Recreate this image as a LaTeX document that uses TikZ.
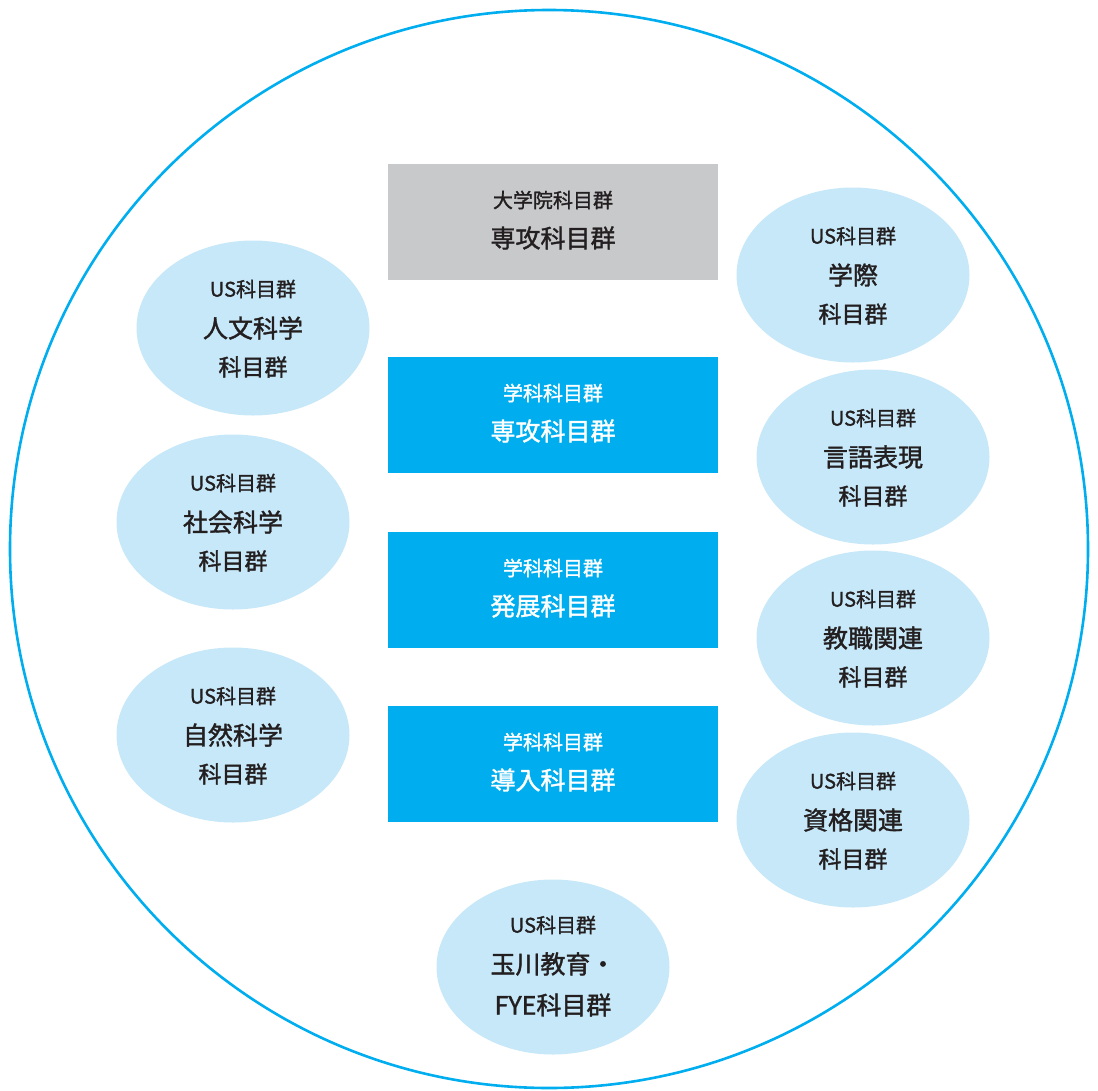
\documentclass[tikz,border=0pt]{standalone}
\usepackage{fontspec}
\newfontfamily\cjk[FakeBold=1.5]{Noto Sans CJK JP}
\usetikzlibrary{shapes.geometric,calc}
\definecolor{cblue}{HTML}{00AEEF}
\definecolor{cgray}{HTML}{C8C9CB}
\definecolor{clight}{HTML}{C7E8F8}
\definecolor{ctext}{HTML}{231F20}
\begin{document}
\begin{tikzpicture}[x=1pt,y=-1pt,
  rectbox/.style={rectangle, minimum width=330pt, minimum height=116pt, inner sep=0pt},
  ovalbox/.style={ellipse, fill=clight, minimum width=233pt, minimum height=175pt, inner sep=0pt},
  small/.style={inner sep=0pt, font=\cjk\fontsize{20}{20}\selectfont, text=ctext},
  big/.style={inner sep=0pt, font=\cjk\fontsize{25}{25}\selectfont, text=ctext},
  mid/.style={inner sep=0pt, font=\cjk\fontsize{23}{23}\selectfont, text=ctext}]
\useasboundingbox (0,0) rectangle (1098,1090);
\node[circle, draw=cblue, line width=2.6pt, minimum size=1078pt, inner sep=0pt] (outer) at (549,549) {};
% rectangles
\node[rectbox, fill=cgray] (r0) at (553,222) {};
\node[rectbox, fill=cblue] (r1) at (553,415) {};
\node[rectbox, fill=cblue] (r2) at (553,590) {};
\node[rectbox, fill=cblue] (r3) at (553,764) {};
\node[small] (r0a) at ($(r0)+(0,-22)$) {大学院科目群};
\node[big] (r0b) at ($(r0)+(0,16)$) {専攻科目群};
\node[small, text=white] (r1a) at ($(r1)+(0,-22)$) {学科科目群};
\node[big, text=white] (r1b) at ($(r1)+(0,16)$) {専攻科目群};
\node[small, text=white] (r2a) at ($(r2)+(0,-22)$) {学科科目群};
\node[big, text=white] (r2b) at ($(r2)+(0,16)$) {発展科目群};
\node[small, text=white] (r3a) at ($(r3)+(0,-22)$) {学科科目群};
\node[big, text=white] (r3b) at ($(r3)+(0,16)$) {導入科目群};
% ovals
\foreach \n/\x/\y/\t in {e1/253/328/人文科学, e2/233/522/社会科学, e3/233/735/自然科学,
  e4/853/275/学際, e5/873/457/言語表現, e6/873/638/教職関連, e7/853/820/資格関連}{
  \node[ovalbox] (\n) at (\x,\y) {};
  \node[small] (\n a) at ($(\n)+(0,-39)$) {US科目群};
  \node[big] (\n b) at ($(\n)+(0,0)$) {\t};
  \node[mid] (\n c) at ($(\n)+(0,39)$) {科目群};
}
\node[ovalbox] (e8) at (553,967) {};
\node[small] (e8a) at ($(e8)+(0,-42)$) {US科目群};
\node[big] (e8b) at ($(e8)+(0,-3)$) {玉川教育・};
\node[big] (e8c) at ($(e8)+(0,38)$) {FYE科目群};
\end{tikzpicture}
\end{document}
